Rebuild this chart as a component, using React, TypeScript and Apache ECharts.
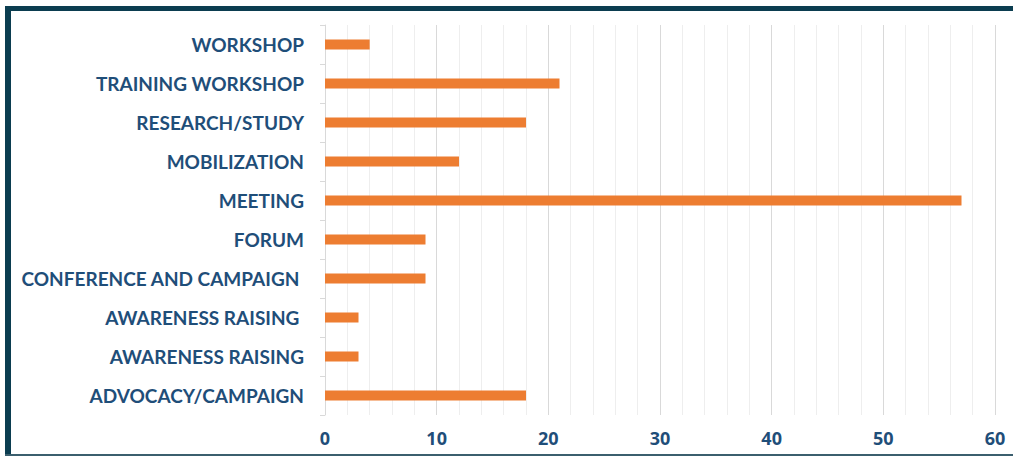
import React, { useEffect, useRef } from "react";
import * as echarts from "echarts";

const categories = [
  "WORKSHOP",
  "TRAINING WORKSHOP",
  "RESEARCH/STUDY",
  "MOBILIZATION",
  "MEETING",
  "FORUM",
  "CONFERENCE AND CAMPAIGN ",
  "AWARENESS RAISING ",
  "AWARENESS RAISING",
  "ADVOCACY/CAMPAIGN",
];
const values = [4, 21, 18, 12, 57, 9, 9, 3, 3, 18];
const xTicks = { min: 0, max: 60, interval: 10 };

export default function App() {
  const ref = useRef<HTMLDivElement>(null);
  useEffect(() => {
    if (!ref.current) return;
    const chart = echarts.init(ref.current, null, { renderer: "svg" });
    const labelColor = "#1f4e79";
    chart.setOption({
      animation: false,
      backgroundColor: "#ffffff",
      grid: { left: 325, right: 18, top: 25, bottom: 41, containLabel: false },
      xAxis: {
        type: "value",
        min: xTicks.min,
        max: xTicks.max,
        interval: xTicks.interval,
        axisLine: { show: false },
        axisTick: { show: false },
        axisLabel: {
          color: labelColor,
          fontFamily: "Open Sans",
          fontWeight: "bold",
          fontSize: 18,
          margin: 14,
        },
        splitLine: { show: true, lineStyle: { color: "#d9d9d9", width: 1 } },
        minorTick: { show: false, splitNumber: 5 },
        minorSplitLine: { show: true, lineStyle: { color: "#eeeeee", width: 1 } },
      },
      yAxis: {
        type: "category",
        data: categories,
        inverse: true,
        axisLine: { show: true, lineStyle: { color: "#d9d9d9", width: 1 } },
        axisTick: { show: true, length: 5, lineStyle: { color: "#d9d9d9" } },
        axisLabel: {
          color: labelColor,
          fontFamily: "Lato",
          fontWeight: "bold",
          fontSize: 19,
          margin: 21,
        },
        splitLine: { show: false },
      },
      series: [
        {
          type: "bar",
          data: values,
          barWidth: 10,
          itemStyle: { color: "#ed7d31" },
        },
      ],
      graphic: [
        { type: "rect", shape: { x: 5, y: 6, width: 1008, height: 5 }, style: { fill: "#0b3d50" } },
        { type: "rect", shape: { x: 5, y: 6, width: 6, height: 449 }, style: { fill: "#0b3d50" } },
        { type: "rect", shape: { x: 5, y: 454, width: 1008, height: 2 }, style: { fill: "#3b5f6e" } },
      ],
    });
    return () => chart.dispose();
  }, []);
  return (
    <div
      ref={ref}
      style={{ position: "absolute", left: 0, top: 0, width: 1013, height: 456 }}
    />
  );
}
